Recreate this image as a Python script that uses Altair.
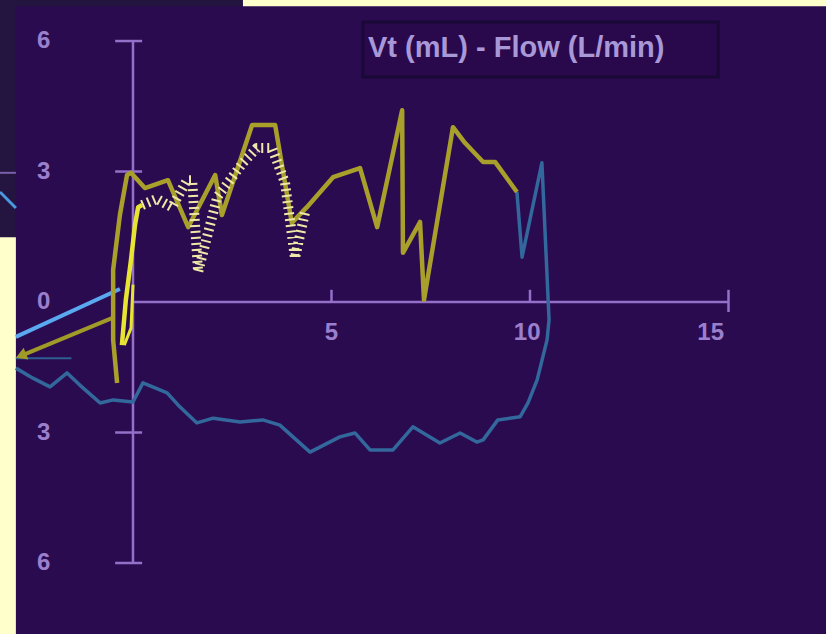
import altair as alt
import pandas as pd

# ---- data (x: volume, y: flow) ----
olive_x = [-0.40, -0.50, -0.50, -0.33, -0.15, -0.05, 0.30, 0.88, 1.39, 2.07, 2.24, 3.00, 3.58, 4.00, 4.38, 5.04, 5.72, 6.15, 6.78, 6.80, 7.23, 7.33, 8.06, 8.36, 8.82, 9.12, 9.67]
olive_y = [-1.86, -0.87, 0.74, 2.00, 2.92, 2.97, 2.62, 2.80, 1.72, 2.92, 2.00, 4.07, 4.07, 1.82, 2.18, 2.87, 3.08, 1.72, 4.41, 1.13, 1.84, 0.05, 4.02, 3.66, 3.22, 3.22, 2.53]

blue_x = [9.67, 9.80, 10.30, 10.48, 10.43, 10.18, 9.95, 9.75, 9.19, 8.82, 8.66, 8.24, 7.73, 7.05, 6.55, 5.97, 5.59, 5.21, 4.46, 4.03, 3.70, 3.27, 2.70, 2.02, 1.61, 1.18, 0.86, 0.25, 0.00, -0.50, -0.83, -1.34, -1.66, -2.09, -2.52, -2.95]
blue_y = [2.53, 1.03, 3.20, -0.41, -0.87, -1.79, -2.32, -2.64, -2.71, -3.17, -3.22, -3.01, -3.24, -2.87, -3.40, -3.40, -3.01, -3.10, -3.45, -3.10, -2.83, -2.71, -2.76, -2.67, -2.78, -2.41, -2.09, -1.86, -2.30, -2.25, -2.32, -1.91, -1.63, -1.95, -1.75, -1.52]

yellow_x = [-0.28, -0.18, -0.05, 0.05, 0.13, 0.23]
yellow_y = [-0.99, 0.05, 0.97, 1.77, 2.18, 2.23]
yellow2_x = [0.00, -0.05, -0.22]
yellow2_y = [0.40, -0.60, -0.99]

dash_x = [0.23, 0.60, 0.98, 1.36, 1.49, 1.64, 2.12, 2.77, 3.12, 3.50, 3.83, 4.08, 4.33]
dash_y = [2.23, 2.37, 2.18, 2.80, 2.80, 0.69, 2.41, 3.20, 3.54, 3.54, 2.74, 1.01, 2.05]

arrow_x = [-0.53, -2.78]
arrow_y = [-0.37, -1.22]
light_x = [-2.95, -0.33]
light_y = [-0.80, 0.30]

y_ticks = [6, 3, -3, -6]
y_labels = ["6", "3", "0", "3", "6"]
y_label_vals = [6, 3, 0, -3, -6]
x_ticks = [5, 10, 15]
x_labels = ["5", "10", "15"]
title_text = "Vt (mL) - Flow (L/min)"

XD = [-3.35, 17.456]
YD = [-7.632, 6.943]
xs = alt.Scale(domain=XD, nice=False, zero=False)
ys = alt.Scale(domain=YD, nice=False, zero=False)

def line_df(xv, yv):
    return pd.DataFrame({"x": xv, "y": yv, "i": list(range(len(xv)))})

def line_layer(xv, yv, color, width, **kw):
    return alt.Chart(line_df(xv, yv)).mark_line(color=color, strokeWidth=width, strokeJoin="round", **kw).encode(
        x=alt.X("x:Q", scale=xs, axis=None), y=alt.Y("y:Q", scale=ys, axis=None), order="i:Q")

# panels
panels = pd.DataFrame({
    "x": [-3.35, -2.95], "x2": [2.77, 17.456],
    "y": [6.943, 6.80], "y2": [1.49, -7.632],
    "c": ["#241540", "#2A0B50"], "k": [0, 1]})
panel_layer = alt.Chart(panels).mark_rect().encode(
    x=alt.X("x:Q", scale=xs, axis=None), x2="x2", y=alt.Y("y:Q", scale=ys, axis=None), y2="y2",
    color=alt.Color("c:N", scale=None), order="k:Q")

# behind-panel fragments
behind_rule = alt.Chart(pd.DataFrame({"x": [-3.35], "x2": [-2.95], "y": [2.97]})).mark_rule(color="#7A60A8", strokeWidth=2).encode(
    x=alt.X("x:Q", scale=xs, axis=None), x2="x2", y=alt.Y("y:Q", scale=ys, axis=None))
behind_line = line_layer([-3.35, -2.95], [2.53, 2.16], "#4A98E0", 3)
faint_rule = alt.Chart(pd.DataFrame({"x": [-2.95], "x2": [-1.55], "y": [-1.29]})).mark_rule(color="#2E5E90", strokeWidth=2).encode(
    x=alt.X("x:Q", scale=xs, axis=None), x2="x2", y=alt.Y("y:Q", scale=ys, axis=None))

AX = "#9470C8"
yaxis = alt.Chart(pd.DataFrame({"x": [0], "y": [-6], "y2": [6]})).mark_rule(color=AX, strokeWidth=2.5).encode(
    x=alt.X("x:Q", scale=xs, axis=None), y=alt.Y("y:Q", scale=ys, axis=None), y2="y2")
yt = alt.Chart(pd.DataFrame({"y": y_ticks, "x": [-0.45] * 4, "x2": [0.23] * 4})).mark_rule(color=AX, strokeWidth=2.5).encode(
    x=alt.X("x:Q", scale=xs, axis=None), x2="x2", y=alt.Y("y:Q", scale=ys, axis=None))
xaxis = alt.Chart(pd.DataFrame({"y": [0], "x": [0], "x2": [15]})).mark_rule(color=AX, strokeWidth=2.5).encode(
    x=alt.X("x:Q", scale=xs, axis=None), x2="x2", y=alt.Y("y:Q", scale=ys, axis=None))
xt = alt.Chart(pd.DataFrame({"x": x_ticks, "y": [0, 0, -0.23], "y2": [0.28, 0.28, 0.28]})).mark_rule(color=AX, strokeWidth=2.5).encode(
    x=alt.X("x:Q", scale=xs, axis=None), y=alt.Y("y:Q", scale=ys, axis=None), y2="y2")

LBL = "#9A80CC"
ylab = alt.Chart(pd.DataFrame({"t": y_labels, "y": y_label_vals, "x": [-2.25] * 5})).mark_text(
    color=LBL, fontSize=24, fontWeight="bold", font="Liberation Sans", align="center", baseline="middle").encode(
    x=alt.X("x:Q", scale=xs, axis=None), y=alt.Y("y:Q", scale=ys, axis=None), text="t:N")
xlab = alt.Chart(pd.DataFrame({"t": x_labels, "x": [5.0, 9.93, 14.55], "y": [-0.72] * 3})).mark_text(
    color=LBL, fontSize=24, fontWeight="bold", font="Liberation Sans", align="center", baseline="middle").encode(
    x=alt.X("x:Q", scale=xs, axis=None), y=alt.Y("y:Q", scale=ys, axis=None), text="t:N")

tbox = alt.Chart(pd.DataFrame({"x": [5.79], "x2": [14.74], "y": [6.44], "y2": [5.17]})).mark_rect(
    fill="#29094C", stroke="#1A0836", strokeWidth=3).encode(
    x=alt.X("x:Q", scale=xs, axis=None), x2="x2", y=alt.Y("y:Q", scale=ys, axis=None), y2="y2")
ttext = alt.Chart(pd.DataFrame({"t": [title_text], "x": [5.92], "y": [5.84]})).mark_text(
    color="#A898D8", fontSize=29, fontWeight="bold", font="Liberation Sans", align="left", baseline="middle").encode(
    x=alt.X("x:Q", scale=xs, axis=None), y=alt.Y("y:Q", scale=ys, axis=None), text="t:N")

blue = line_layer(blue_x, blue_y, "#32689C", 3.5)
light = line_layer(light_x, light_y, "#5AA8F0", 4)
arrow = line_layer(arrow_x, arrow_y, "#A09A28", 4)
arrow_head = alt.Chart(pd.DataFrame({"x": [arrow_x[-1]], "y": [arrow_y[-1]]})).mark_point(
    shape="triangle", angle=248, filled=True, size=160, color="#A09A28", opacity=1).encode(
    x=alt.X("x:Q", scale=xs, axis=None), y=alt.Y("y:Q", scale=ys, axis=None))
olive = line_layer(olive_x, olive_y, "#A8A02A", 4.5)
yellow = line_layer(yellow_x, yellow_y, "#E8E432", 4.5)
yellow2 = line_layer(yellow2_x, yellow2_y, "#E8E432", 3)
dashed = line_layer(dash_x, dash_y, "#EEE8A8", 10, strokeDash=[2, 4], strokeCap="butt")

chart = alt.layer(
    panel_layer, behind_rule, behind_line, faint_rule,
    yaxis, yt, xaxis, xt, ylab, xlab, tbox, ttext,
    blue, light, arrow, arrow_head, olive, dashed, yellow, yellow2,
).properties(
    width=826, height=634, autosize=alt.AutoSizeParams(type="none"), padding=0,
    background="#FFFFCC",
).configure_view(stroke=None, fill="#FFFFCC")

chart.save("out.html", embed_options={"renderer": "svg", "actions": False})
